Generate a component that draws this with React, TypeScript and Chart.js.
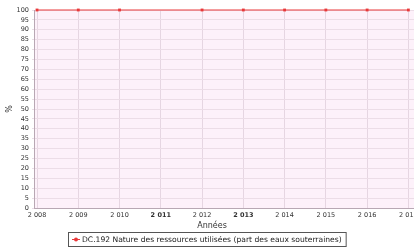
import React, { useEffect, useRef } from "react";
import { Chart, registerables } from "chart.js";

Chart.register(...registerables);

const years = [2008, 2009, 2010, 2012, 2013, 2014, 2015, 2016, 2017];
const values = [100, 100, 100, 100, 100, 100, 100, 100, 100];
const tickYears = [2008, 2009, 2010, 2011, 2012, 2013, 2014, 2015, 2016, 2017];
const boldYears = [2011, 2013];
const seriesLabel = "DC.192 Nature des ressources utilisées (part des eaux souterraines)";
const yTitle = "%";
const xTitle = "Années";

const FONT = "'DejaVu Sans', sans-serif";
const RED = "#e8383a";

const bgPlugin = {
  id: "plotBg",
  beforeDraw(chart: any) {
    const { ctx, chartArea } = chart;
    ctx.save();
    ctx.fillStyle = "#fdf1fa";
    ctx.fillRect(chartArea.left, chartArea.top, chartArea.right - chartArea.left, chartArea.bottom - chartArea.top);
    ctx.restore();
  },
};

const legendPlugin = {
  id: "boxLegend",
  afterDraw(chart: any) {
    const { ctx } = chart;
    const label = chart.data.datasets[0].label;
    ctx.save();
    ctx.font = `7.6px ${FONT}`;
    const tw = ctx.measureText(label).width;
    const x0 = 68;
    const y0 = 232;
    const w = tw + 18;
    const h = 14;
    ctx.fillStyle = "#ffffff";
    ctx.fillRect(x0, y0, w, h);
    ctx.strokeStyle = "#555555";
    ctx.lineWidth = 1;
    ctx.strokeRect(x0 + 0.5, y0 + 0.5, w, h);
    ctx.strokeStyle = RED;
    ctx.beginPath();
    ctx.moveTo(x0 + 4, y0 + 7.5);
    ctx.lineTo(x0 + 12, y0 + 7.5);
    ctx.stroke();
    ctx.fillStyle = RED;
    ctx.beginPath();
    ctx.arc(x0 + 8, y0 + 7.5, 2, 0, Math.PI * 2);
    ctx.fill();
    ctx.fillStyle = "#222222";
    ctx.textBaseline = "middle";
    ctx.fillText(label, x0 + 14, y0 + 8);
    ctx.restore();
  },
};

export default function App() {
  const ref = useRef<HTMLCanvasElement>(null);
  useEffect(() => {
    if (!ref.current) return;
    const chart = new Chart(ref.current, {
      type: "line",
      data: {
        datasets: [
          {
            label: seriesLabel,
            data: years.map((y, i) => ({ x: y, y: values[i] })),
            borderColor: RED,
            backgroundColor: RED,
            borderWidth: 1,
            pointRadius: 2,
            pointStyle: "rect",
            pointBorderWidth: 0,
            clip: false as any,
          },
        ],
      },
      options: {
        animation: false,
        responsive: false,
        maintainAspectRatio: false,
        layout: { padding: { top: 10, bottom: 33, left: 0, right: 2 } },
        plugins: { legend: { display: false }, tooltip: { enabled: false } },
        scales: {
          x: {
            type: "linear",
            min: 2007.927,
            max: 2017.427,
            afterBuildTicks: (axis: any) => {
              axis.ticks = tickYears.map((v) => ({ value: v }));
            },
            afterFit: (axis: any) => {
              axis.height = 10;
            },
            grid: { color: "#e6d6e2", lineWidth: 1, drawTicks: false },
            border: { color: "#b8a8b4" },
            ticks: {
              autoSkip: false,
              maxRotation: 0,
              padding: 3,
              color: "#333333",
              font: (c: any) => ({
                family: FONT,
                size: 6.5,
                weight: c.tick && boldYears.includes(c.tick.value) ? "bold" : "normal",
              }),
              callback: (v: any) => {
                const s = String(v);
                return s.slice(0, 1) + " " + s.slice(1);
              },
            },
            title: { display: false },
          },
          y: {
            min: 0,
            max: 100,
            afterFit: (axis: any) => {
              axis.width = 34;
            },
            ticks: {
              stepSize: 5,
              autoSkip: false,
              padding: 3,
              color: "#333333",
              font: { family: FONT, size: 6.5 },
            },
            grid: { color: "#ecdde7", lineWidth: 1, drawTicks: true, tickLength: 2 },
            border: { color: "#b8a8b4" },
            title: { display: false },
          },
        },
      },
      plugins: [
        bgPlugin,
        legendPlugin,
        {
          id: "titles",
          afterDraw(chart: any) {
            const { ctx, chartArea } = chart;
            ctx.save();
            ctx.fillStyle = "#333333";
            ctx.font = `8px ${FONT}`;
            ctx.textAlign = "center";
            ctx.textBaseline = "middle";
            ctx.fillText(xTitle, 212, 226);
            ctx.translate(10, (chartArea.top + chartArea.bottom) / 2);
            ctx.rotate(-Math.PI / 2);
            ctx.fillText(yTitle, 0, 0);
            ctx.restore();
          },
        },
      ],
    } as any);
    return () => chart.destroy();
  }, []);
  return (
    <div style={{ position: "fixed", left: 0, top: 0, width: 414, height: 251, overflow: "hidden", background: "#fff" }}>
      <canvas ref={ref} width={430} height={251} style={{ display: "block" }} />
    </div>
  );
}
